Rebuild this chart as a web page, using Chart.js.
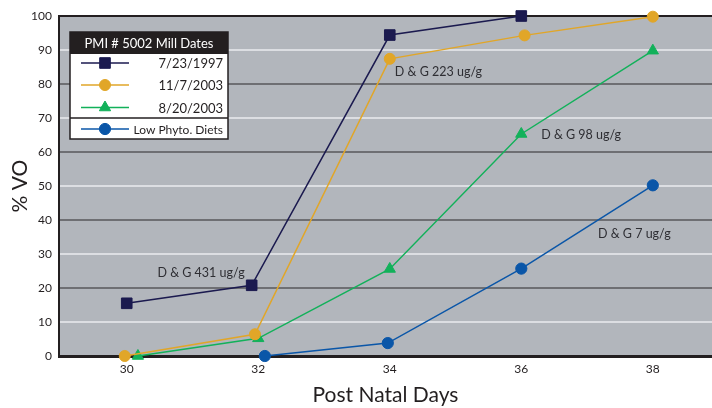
<!DOCTYPE html>
<html><head><meta charset="utf-8">
<script src="https://cdn.jsdelivr.net/npm/chart.js@4/dist/chart.umd.min.js"></script>
<style>html,body{margin:0;padding:0;background:#fff;overflow:hidden}#wrap{width:712px;height:408px}</style>
</head><body><div id="wrap"><canvas id="c" width="712" height="408"></canvas></div>
<script>
const xTicks = [30, 32, 34, 36, 38];
const seriesNames = ['7/23/1997', '11/7/2003', '8/20/2003', 'Low Phyto. Diets'];
const days1997 = [30, 31.9, 34, 36];
const vo1997 = [15.5, 20.8, 94.4, 100];
const daysNov2003 = [29.97, 31.95, 34, 36.05, 38];
const voNov2003 = [0, 6.4, 87.4, 94.3, 99.8];
const daysAug2003 = [30.17, 32, 34, 36, 38];
const voAug2003 = [0, 5.2, 25.6, 65.3, 89.8];
const daysLow = [32.1, 33.97, 36, 38];
const voLow = [0, 3.8, 25.7, 50.2];
const legendTitle = 'PMI # 5002 Mill Dates';
const noteTexts = ['D & G 431 ug/g', 'D & G 223 ug/g', 'D & G 98 ug/g', 'D & G 7 ug/g'];
const noteX = [31.13, 34.74, 36.91, 37.72];
const noteY = [24.4, 83.6, 64.9, 35.9];

const FONT = 'Lato, "Open Sans", sans-serif';
const colors = ['#1b1a4f', '#e1a628', '#12b15a', '#0a56a8'];
const shapes = ['rect', 'circle', 'triangle', 'circle'];
const radii = [7.5, 5.5, 6.5, 5.6];

function pts(xs, ys){ return xs.map((x,i)=>({x:x, y:ys[i]})); }
const allX = [days1997, daysNov2003, daysAug2003, daysLow];
const allY = [vo1997, voNov2003, voAug2003, voLow];

const datasets = seriesNames.map((n,i)=>({
  label: n,
  data: pts(allX[i], allY[i]),
  borderColor: colors[i],
  backgroundColor: colors[i],
  pointBackgroundColor: colors[i],
  pointBorderColor: colors[i],
  pointStyle: shapes[i],
  pointRadius: radii[i],
  pointHoverRadius: radii[i],
  borderWidth: 1.5,
  pointBorderWidth: 1,
  tension: 0,
  clip: false
}));

const bgPlugin = {
  id: 'bg',
  beforeDraw(chart){
    const {ctx, chartArea:a} = chart;
    ctx.save();
    ctx.fillStyle = '#b2b6bc';
    ctx.fillRect(a.left, a.top, a.right - a.left, a.bottom - a.top);
    ctx.restore();
  }
};

const notesPlugin = {
  id: 'notes',
  afterDatasetsDraw(chart){
    const ctx = chart.ctx, xs = chart.scales.x, ys = chart.scales.y;
    ctx.save();
    ctx.font = '12.5px ' + FONT;
    ctx.fillStyle = '#2e2e33';
    ctx.textAlign = 'center';
    ctx.textBaseline = 'middle';
    noteTexts.forEach((t,i)=>{
      ctx.fillText(t, xs.getPixelForValue(noteX[i]), ys.getPixelForValue(noteY[i]));
    });
    ctx.restore();
  }
};

const legendPlugin = {
  id: 'boxLegend',
  afterDraw(chart){
    const ctx = chart.ctx;
    const L = 70, T = 32, W = 158, H = 107, headH = 22;
    ctx.save();
    ctx.fillStyle = '#ffffff';
    ctx.fillRect(L, T, W, H);
    ctx.fillStyle = '#231f20';
    ctx.fillRect(L, T, W, headH);
    ctx.strokeStyle = '#231f20';
    ctx.lineWidth = 1.5;
    ctx.strokeRect(L, T, W, H);
    ctx.beginPath(); ctx.moveTo(L, 118); ctx.lineTo(L + W, 118); ctx.stroke();
    ctx.font = '13px ' + FONT;
    ctx.fillStyle = '#ffffff';
    ctx.textAlign = 'center'; ctx.textBaseline = 'middle';
    ctx.fillText(legendTitle, L + W/2, T + headH/2 + 1);
    const rows = [63, 85, 107.5, 129];
    chart.data.datasets.forEach((ds,i)=>{
      const y = rows[i];
      ctx.strokeStyle = ds.borderColor; ctx.lineWidth = 1.5;
      ctx.beginPath(); ctx.moveTo(81, y); ctx.lineTo(129, y); ctx.stroke();
      ctx.fillStyle = ds.pointBackgroundColor;
      ctx.lineWidth = 1;
      Chart.helpers.drawPoint(ctx, {pointStyle: ds.pointStyle, radius: ds.pointRadius, rotation: 0, borderWidth: 1}, 105, y);
      ctx.fillStyle = '#231f20';
      ctx.textAlign = 'right';
      ctx.font = (i === 3 ? '12px ' : '13px ') + FONT;
      ctx.fillText(ds.label, 223, y + 1);
    });
    ctx.restore();
  }
};

new Chart(document.getElementById('c'), {
  type: 'line',
  data: { datasets },
  plugins: [bgPlugin, notesPlugin, legendPlugin],
  options: {
    responsive: false,
    animation: false,
    devicePixelRatio: 1,
    layout: { autoPadding: false, padding: { top: 16, right: 0, left: 0, bottom: 0 } },
    plugins: { legend: { display: false }, tooltip: { enabled: false } },
    scales: {
      x: {
        type: 'linear', min: 28.97, max: 38.9,
        afterBuildTicks(s){ s.ticks = xTicks.map(v=>({value:v})); },
        afterFit(s){ s.height = 52; s.paddingLeft = 0; s.paddingRight = 0; },
        grid: { display: false, drawTicks: false },
        border: { display: true, color: '#231f20', width: 3 },
        ticks: { color: '#231f20', font: { family: FONT, size: 12 }, padding: 6, maxRotation: 0, autoSkip: false },
        title: { display: true, text: 'Post Natal Days', color: '#231f20', font: { family: FONT, size: 21 }, padding: { top: 7, bottom: 0 } }
      },
      y: {
        min: 0, max: 100,
        afterFit(s){ s.width = 59; s.paddingTop = 0; s.paddingBottom = 0; },
        ticks: { stepSize: 10, color: '#231f20', font: { family: FONT, size: 12 }, padding: 7 },
        grid: {
          drawTicks: false,
          color(c){ const v = c.tick.value; if (v === 0 || v === 100) return '#231f20'; return v % 20 === 0 ? '#6e6f73' : '#dcdee2'; },
          lineWidth(c){ const v = c.tick.value; if (v === 0) return 3; return 2; }
        },
        border: { display: true, color: '#231f20', width: 2 },
        title: { display: true, text: '% VO', color: '#231f20', font: { family: FONT, size: 21 }, padding: { top: 8, bottom: 2 } }
      }
    }
  }
});
</script></body></html>
